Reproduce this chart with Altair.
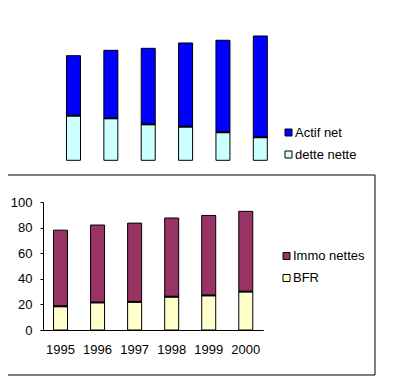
import altair as alt
import pandas as pd

years = ['1995', '1996', '1997', '1998', '1999', '2000']
actif_net = [44.7, 50.7, 56.7, 62.4, 68.6, 75.5]
dette_nette = [33.3, 31.3, 26.8, 25.1, 20.9, 17.2]
immo_nettes = [59.5, 60.5, 61.5, 61.5, 62.5, 62.7]
bfr = [18.5, 21.5, 22.0, 26.0, 27.0, 30.0]

top_series = ['Actif net', 'dette nette']
bottom_series = ['Immo nettes', 'BFR']
top_colors = ['#0000FF', '#CCFFFF']
bottom_colors = ['#993366', '#FFFFCC']
y_ticks = [0, 20, 40, 60, 80, 100]

FONT = 'Liberation Sans'
W, H = 385, 372

top_df = pd.DataFrame({
    'year': years * 2,
    'series': ['dette nette'] * 6 + ['Actif net'] * 6,
    'value': dette_nette + actif_net,
    'ord': [0] * 6 + [1] * 6,
})
bottom_df = pd.DataFrame({
    'year': years * 2,
    'series': ['BFR'] * 6 + ['Immo nettes'] * 6,
    'value': bfr + immo_nettes,
    'ord': [0] * 6 + [1] * 6,
})
top_split = pd.DataFrame({'year': years, 'value': dette_nette})
bottom_split = pd.DataFrame({'year': years, 'value': bfr})
frame_df = pd.DataFrame({'a': [0]})

x_top_scale = alt.Scale(range=[46.8, 271.0], paddingInner=0.625, paddingOuter=0.3125)
y_top_scale = alt.Scale(domain=[0, 100], range=[152.3, 18.2], nice=False)
x_bot_scale = alt.Scale(range=[35, 255.3], paddingInner=0.622, paddingOuter=0.284)
y_bot_scale = alt.Scale(domain=[0, 100], range=[322, 194], nice=False)


def legend(x, y):
    return alt.Legend(
        orient='none', legendX=x, legendY=y, title=None,
        symbolType='square', symbolSize=49, symbolStrokeColor='black',
        symbolStrokeWidth=1, symbolOpacity=1,
        labelFont=FONT, labelFontSize=13, labelColor='black',
        labelOffset=0, rowPadding=8, padding=0,
    )


top_bars = alt.Chart(top_df).mark_bar(stroke='black', strokeWidth=1).encode(
    x=alt.X('year:N', axis=None, scale=x_top_scale),
    y=alt.Y('value:Q', stack='zero', axis=None, scale=y_top_scale),
    color=alt.Color('series:N', scale=alt.Scale(domain=top_series, range=top_colors),
                    legend=legend(274, 118)),
    order=alt.Order('ord:Q', sort='ascending'),
)
top_ticks = alt.Chart(top_split).mark_tick(color='black', thickness=2, size=14, opacity=1).encode(
    x=alt.X('year:N', axis=None, scale=x_top_scale),
    y=alt.Y('value:Q', axis=None, scale=y_top_scale),
)

bot_bars = alt.Chart(bottom_df).mark_bar(stroke='black', strokeWidth=1).encode(
    x=alt.X('year:N', scale=x_bot_scale, axis=alt.Axis(
        orient='bottom', offset=-(H - 322), title=None, labelAngle=0, ticks=False,
        tickSize=0, labelPadding=13, domainColor='black', domainWidth=1, grid=False,
        labelFont=FONT, labelFontSize=13, labelColor='black')),
    y=alt.Y('value:Q', stack='zero', scale=y_bot_scale, axis=alt.Axis(
        orient='left', offset=-35, values=y_ticks, title=None, tickSize=3,
        tickColor='black', labelPadding=8, domainColor='black', domainWidth=1,
        grid=False, labelFont=FONT, labelFontSize=13, labelColor='black')),
    color=alt.Color('series:N', scale=alt.Scale(domain=bottom_series, range=bottom_colors),
                    legend=legend(272, 241.5)),
    order=alt.Order('ord:Q', sort='ascending'),
)
bot_ticks = alt.Chart(bottom_split).mark_tick(color='black', thickness=2, size=14, opacity=1).encode(
    x=alt.X('year:N', axis=None, scale=x_bot_scale),
    y=alt.Y('value:Q', axis=None, scale=y_bot_scale),
)

frame_top = alt.Chart(frame_df).mark_rule(color='black', strokeWidth=1).encode(
    x=alt.value(-8), x2=alt.value(367), y=alt.value(167),
)
frame_bottom = alt.Chart(frame_df).mark_rule(color='black', strokeWidth=1).encode(
    x=alt.value(-8), x2=alt.value(367), y=alt.value(367),
)
frame_right = alt.Chart(frame_df).mark_rule(color='black', strokeWidth=1).encode(
    x=alt.value(367), y=alt.value(167), y2=alt.value(367),
)

chart = alt.layer(
    top_bars, top_ticks, bot_bars, bot_ticks, frame_top, frame_bottom, frame_right
).resolve_scale(
    x='independent', y='independent', color='independent'
).properties(
    width=W, height=H, padding=0, autosize=alt.AutoSizeParams(type='none'),
).configure_view(stroke=None)

chart.save('out.html', embed_options={'renderer': 'svg', 'actions': False})
